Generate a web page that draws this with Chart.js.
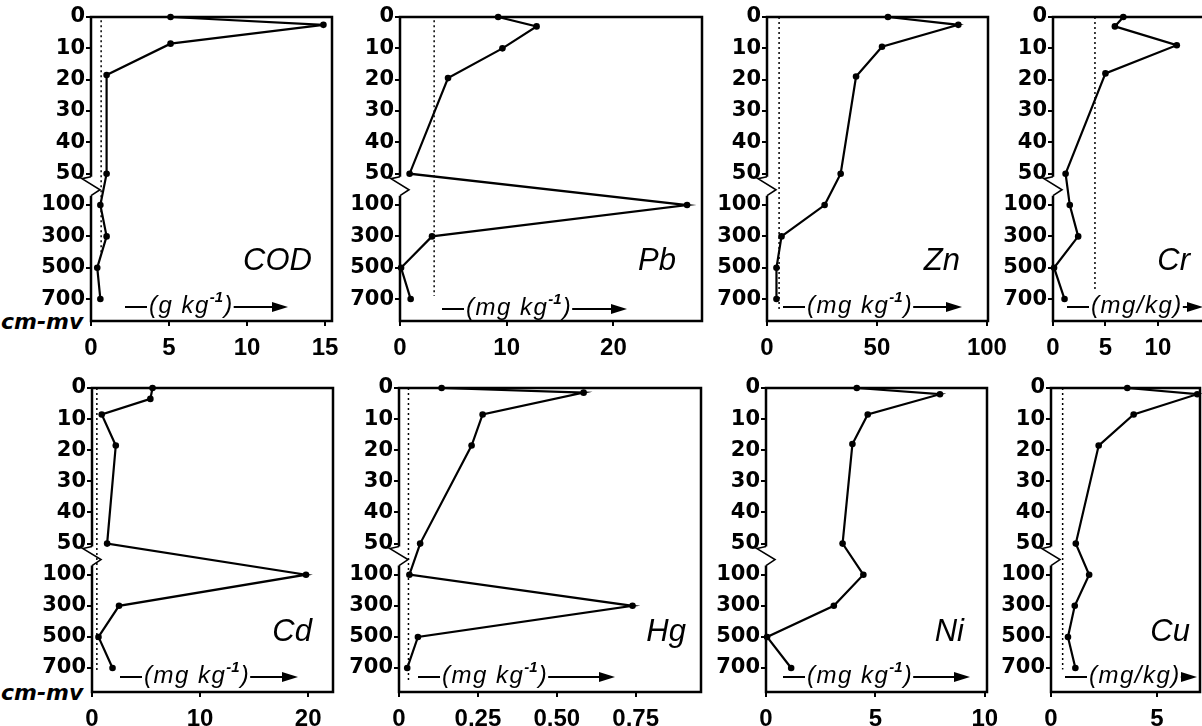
<!DOCTYPE html>
<html>
<head>
<meta charset="utf-8">
<script src="https://cdn.jsdelivr.net/npm/chart.js@4.4.1/dist/chart.umd.min.js"></script>
<style>
  body { margin: 0; background: #fff; width: 1202px; height: 726px; overflow: hidden; position: relative; }
  canvas { position: absolute; }
  .cm { position: absolute; left: 1px; font: italic bold 22px "DejaVu Sans"; color: #000; line-height: 24px; }
</style>
</head>
<body>
<div class="cm" style="top:310px">cm-mv</div>
<div class="cm" style="top:681px">cm-mv</div>

<script>
// depth axis (cm below the bottom, "cm-mv"): 0-50 linear, then broken axis
const depthTicks = [0, 10, 20, 30, 40, 50, 100, 300, 500, 700];

const codDepth = [0, 2.5, 8.5, 18.5, 50, 100, 300, 500, 700];
const codValues = [5.1, 14.9, 5.1, 1.0, 1.0, 0.6, 1.0, 0.4, 0.6];
const codBackground = 0.65;
const codBackgroundRange = [1, 420];

const pbDepth = [0, 3, 10, 19.5, 50, 100, 300, 500, 700];
const pbValues = [9.2, 12.8, 9.6, 4.5, 0.9, 26.9, 3.0, 0.1, 1.0];
const pbBackground = 3.2;
const pbBackgroundRange = [1, 680];

const znDepth = [0, 2.5, 9.5, 19, 50, 100, 300, 500, 700];
const znValues = [55, 87, 52.3, 40.5, 33.5, 26.2, 6.6, 4.3, 4.3];
const znBackground = 5.5;
const znBackgroundRange = [0, 780];

const crDepth = [0, 3, 9, 18, 50, 100, 300, 500, 700];
const crValues = [6.7, 5.9, 11.8, 5.0, 1.2, 1.6, 2.4, 0.1, 1.1];
const crBackground = 4.0;
const crBackgroundRange = [0, 640];

const cdDepth = [0, 3.5, 8.5, 18.5, 50, 100, 300, 500, 700];
const cdValues = [5.6, 5.4, 0.9, 2.2, 1.4, 19.8, 2.5, 0.6, 1.9];
const cdBackground = 0.45;
const cdBackgroundRange = [0, 720];

const hgDepth = [0, 1.5, 8.5, 18.5, 50, 100, 300, 500, 700];
const hgValues = [0.135, 0.585, 0.265, 0.23, 0.067, 0.033, 0.74, 0.06, 0.026];
const hgBackground = 0.03;
const hgBackgroundRange = [0, 780];

const niDepth = [0, 2, 8.5, 18, 50, 100, 300, 500, 700];
const niValues = [4.15, 7.95, 4.65, 3.95, 3.5, 4.45, 3.1, 0.05, 1.15];

const cuDepth = [0, 2, 8.5, 18.5, 50, 100, 300, 500, 700];
const cuValues = [3.6, 6.9, 3.9, 2.25, 1.17, 1.8, 1.12, 0.8, 1.15];
const cuBackground = 0.55;
const cuBackgroundRange = [0, 710];

const codTicks = [0, 5, 10, 15];
const pbTicks = [0, 10, 20];
const znTicks = [0, 50, 100];
const crTicks = [0, 5, 10];
const cdTicks = [0, 10, 20];
const hgTicks = [0, 0.25, 0.5, 0.75];
const hgTickLabels = ['0', '0,25', '0,50', '0,75'];
const niTicks = [0, 5, 10];
const cuTicks = [0, 5];

// position on the broken depth axis: 0-50 cm linear, then one step per listed depth
function depthPos(d) {
  if (d <= 50) return d / 10;
  const deep = [50, 100, 300, 500, 700];
  for (let i = 1; i < deep.length; i++) {
    if (d <= deep[i]) return 4 + i + (d - deep[i - 1]) / (deep[i] - deep[i - 1]);
  }
  return 9 + (d - 700) / 200;
}

const YW = 70, PT = 14, PR = 28, XH = 42;

const panels = [
  { name: 'COD', depth: codDepth, values: codValues, bg: codBackground, bgRange: codBackgroundRange,
    ticks: codTicks, left: 91, right: 332, top: 17, bottom: 321, xMax: 15.45, yMax: 9.70,
    nameX: 221, unit: ['(g kg', '-1', ')'], unitX: [34, 197], unitY: 288 },
  { name: 'Pb', depth: pbDepth, values: pbValues, bg: pbBackground, bgRange: pbBackgroundRange,
    ticks: pbTicks, left: 400, right: 702, top: 17, bottom: 321, xMax: 28.3, yMax: 9.70,
    nameX: 276, unit: ['(mg kg', '-1', ')'], unitX: [42, 227], unitY: 290 },
  { name: 'Zn', depth: znDepth, values: znValues, bg: znBackground, bgRange: znBackgroundRange,
    ticks: znTicks, left: 767, right: 988, top: 17, bottom: 321, xMax: 100.5, yMax: 9.70,
    nameX: 193, unit: ['(mg kg', '-1', ')'], unitX: [16, 195], unitY: 288 },
  { name: 'Cr', depth: crDepth, values: crValues, bg: crBackground, bgRange: crBackgroundRange,
    ticks: crTicks, left: 1053, right: 1203, top: 17, bottom: 321, xMax: 14.3, yMax: 9.70, noRight: true,
    nameX: 137, unit: ['(mg/kg)', '', ''], unitX: [14, 150], unitY: 288 },
  { name: 'Cd', depth: cdDepth, values: cdValues, bg: cdBackground, bgRange: cdBackgroundRange,
    ticks: cdTicks, left: 92, right: 333, top: 388, bottom: 692, xMax: 22.3, yMax: 9.77,
    nameX: 220, unit: ['(mg kg', '-1', ')'], unitX: [28, 206], unitY: 287 },
  { name: 'Hg', depth: hgDepth, values: hgValues, bg: hgBackground, bgRange: hgBackgroundRange,
    ticks: hgTicks, tickLabels: hgTickLabels, left: 399, right: 701, top: 388, bottom: 692, xMax: 0.957, yMax: 9.77,
    nameX: 287, unit: ['(mg kg', '-1', ')'], unitX: [19, 216], unitY: 287 },
  { name: 'Ni', depth: niDepth, values: niValues,
    ticks: niTicks, left: 766, right: 987, top: 388, bottom: 692, xMax: 10.1, yMax: 9.77,
    nameX: 198, unit: ['(mg kg', '-1', ')'], unitX: [17, 204], unitY: 287 },
  { name: 'Cu', depth: cuDepth, values: cuValues, bg: cuBackground, bgRange: cuBackgroundRange,
    ticks: cuTicks, left: 1051, right: 1200, top: 388, bottom: 692, xMax: 7.03, yMax: 9.77,
    nameX: 139, unit: ['(mg/kg)', '', ''], unitX: [14, 146], unitY: 287 }
];

// frame with the zigzag break on the depth axis, element name and unit arrow
const framePlugin = {
  id: 'frame',
  beforeDatasetsDraw(chart) {
    const p = chart.options.plugins.frame;
    const { left, right, top, bottom } = chart.chartArea;
    const y50 = chart.scales.y.getPixelForValue(5);
    const ctx = chart.ctx;
    ctx.save();
    ctx.strokeStyle = '#000';
    ctx.lineWidth = 2.5;
    ctx.beginPath();
    ctx.moveTo(left, y50 + 3);
    ctx.lineTo(left, top);
    ctx.lineTo(right, top);
    if (!p.noRight) ctx.lineTo(right, bottom); else ctx.moveTo(right, bottom);
    ctx.lineTo(left, bottom);
    ctx.lineTo(left, y50 + 22);
    ctx.stroke();
    ctx.lineWidth = 1.6;
    ctx.beginPath();
    ctx.moveTo(left, y50 + 3);
    ctx.lineTo(left - 9, y50 + 5);
    ctx.lineTo(left + 9, y50 + 16);
    ctx.lineTo(left, y50 + 22);
    ctx.stroke();
    ctx.restore();
  },
  afterDraw(chart) {
    const p = chart.options.plugins.frame;
    const { left, top } = chart.chartArea;
    const ctx = chart.ctx;
    ctx.save();
    ctx.fillStyle = '#000';
    ctx.strokeStyle = '#000';
    ctx.font = 'italic 31px "Liberation Sans"';
    ctx.textAlign = 'right';
    ctx.textBaseline = 'alphabetic';
    ctx.letterSpacing = '0px';
    ctx.fillText(p.name, left + p.nameX, top + 253);

    // unit with arrow
    const y = top + p.unitY;
    const x0 = left + p.unitX[0], x1 = left + p.unitX[1];
    let tx = x0 + 24;
    ctx.textAlign = 'left';
    ctx.letterSpacing = '1.5px';
    ctx.font = 'italic 24px "Liberation Sans"';
    ctx.fillText(p.unit[0], tx, y + 8);
    tx += ctx.measureText(p.unit[0]).width;
    if (p.unit[1]) {
      ctx.font = 'italic bold 15px "Liberation Sans"';
      ctx.letterSpacing = '0px';
      ctx.fillText(p.unit[1], tx, y - 3);
      tx += ctx.measureText(p.unit[1]).width + 1;
      ctx.font = 'italic 24px "Liberation Sans"';
      ctx.letterSpacing = '1.5px';
      ctx.fillText(p.unit[2], tx, y + 8);
      tx += ctx.measureText(p.unit[2]).width;
    }
    ctx.lineWidth = 2;
    ctx.beginPath();
    ctx.moveTo(x0, y + 2);
    ctx.lineTo(x0 + 22, y + 2);
    ctx.moveTo(tx, y + 2);
    ctx.lineTo(x1 - 12, y + 2);
    ctx.stroke();
    ctx.beginPath();
    ctx.moveTo(x1 - 16, y - 3);
    ctx.lineTo(x1, y + 2);
    ctx.lineTo(x1 - 16, y + 7);
    ctx.closePath();
    ctx.fill();
    ctx.restore();
  }
};

panels.forEach(p => {
  const canvas = document.createElement('canvas');
  const w = p.right - p.left + YW + PR;
  const h = p.bottom - p.top + PT + XH;
  canvas.width = w;
  canvas.height = h;
  canvas.style.left = (p.left - YW) + 'px';
  canvas.style.top = (p.top - PT) + 'px';
  canvas.style.width = w + 'px';
  canvas.style.height = h + 'px';
  document.body.appendChild(canvas);

  const datasets = [{
    data: p.values.map((v, i) => ({ x: v, y: depthPos(p.depth[i]) })),
    showLine: true,
    borderColor: '#000',
    borderWidth: 2.2,
    pointRadius: 3.3,
    pointBackgroundColor: '#000',
    pointBorderWidth: 0,
    tension: 0,
    clip: false
  }];
  if (p.bg !== undefined) {
    datasets.push({
      data: p.bgRange.map(d => ({ x: p.bg, y: depthPos(d) })),
      showLine: true,
      borderColor: '#000',
      borderWidth: 1.5,
      borderDash: [2, 3],
      pointRadius: 0,
      clip: false
    });
  }

  new Chart(canvas, {
    type: 'scatter',
    data: { datasets },
    options: {
      responsive: false,
      animation: false,
      devicePixelRatio: 1,
      layout: { padding: { top: PT, right: PR, left: 0, bottom: 0 } },
      plugins: {
        legend: { display: false },
        tooltip: { enabled: false },
        frame: { name: p.name, nameX: p.nameX, unit: p.unit, unitX: p.unitX, unitY: p.unitY, noRight: p.noRight }
      },
      scales: {
        x: {
          type: 'linear',
          min: 0,
          max: p.xMax,
          afterBuildTicks: s => { s.ticks = p.ticks.map(v => ({ value: v })); },
          afterFit: s => { s.height = XH; s.paddingLeft = 0; s.paddingRight = 0; },
          ticks: {
            callback: (v, i) => p.tickLabels ? p.tickLabels[i] : String(v),
            font: { family: '"Liberation Sans"', size: 24, weight: 'bold' },
            color: '#000',
            padding: 8,
            maxRotation: 0,
            autoSkip: false
          },
          grid: { drawOnChartArea: false, drawTicks: true, tickLength: 5, color: '#000', lineWidth: 2 },
          border: { display: false }
        },
        y: {
          type: 'linear',
          reverse: true,
          min: 0,
          max: p.yMax,
          afterBuildTicks: s => { s.ticks = depthTicks.map((d, i) => ({ value: i })); },
          afterFit: s => { s.width = YW; s.paddingTop = 0; s.paddingBottom = 0; },
          ticks: {
            callback: v => String(depthTicks[v]),
            font: { family: '"DejaVu Sans"', size: 21, weight: 'bold' },
            color: '#000',
            padding: 1,
            autoSkip: false
          },
          grid: { drawOnChartArea: false, drawTicks: true, tickLength: 5, color: '#000', lineWidth: 2 },
          border: { display: false }
        }
      }
    },
    plugins: [framePlugin]
  });
});
</script>
</body>
</html>
